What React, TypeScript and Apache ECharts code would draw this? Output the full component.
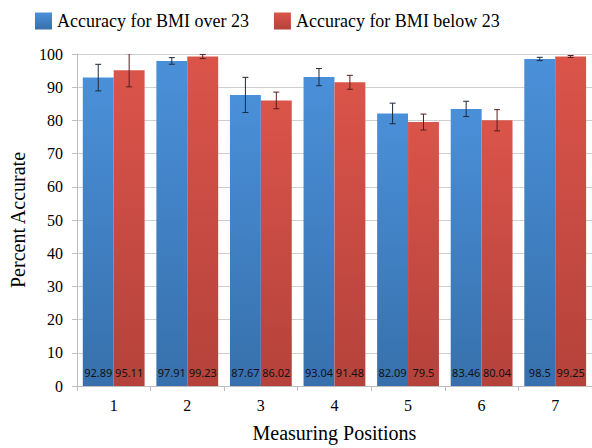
import React, { useEffect, useRef } from "react";
import * as echarts from "echarts";

const categories = ["1", "2", "3", "4", "5", "6", "7"];
const overValues = [92.89, 97.91, 87.67, 93.04, 82.09, 83.46, 98.5];
const belowValues = [95.11, 99.23, 86.02, 91.48, 79.5, 80.04, 99.25];
const overErrors = [4, 1, 5.3, 2.6, 3.1, 2.3, 0.5];
const belowErrors = [5, 0.6, 2.5, 2.1, 2.4, 3.2, 0.3];
const yTicks = [0, 10, 20, 30, 40, 50, 60, 70, 80, 90, 100];

const SERIF = "Liberation Serif";
const CAT_GAP = 0.16;

function grad(top: string, bottom: string) {
  return new echarts.graphic.LinearGradient(0, 0, 0, 1, [
    { offset: 0, color: top },
    { offset: 1, color: bottom },
  ]);
}

function errorSeries(values: number[], errors: number[], side: number, color: string) {
  return {
    type: "custom",
    clip: true,
    silent: true,
    z: 10,
    data: values.map((v, i) => [i, v, errors[i]]),
    encode: { x: 0, y: 1 },
    renderItem: (params: any, api: any) => {
      const idx = api.value(0);
      const v = api.value(1);
      const e = api.value(2);
      const catW = api.size([1, 0])[0];
      const barW = (catW * (1 - CAT_GAP)) / 2;
      const hi = api.coord([idx, v + e]);
      const lo = api.coord([idx, v - e]);
      const x = hi[0] + (side * barW) / 2;
      const cap = 3;
      const style = { stroke: color, lineWidth: 1 };
      return {
        type: "group",
        children: [
          { type: "line", shape: { x1: x, y1: hi[1], x2: x, y2: lo[1] }, style },
          { type: "line", shape: { x1: x - cap, y1: hi[1], x2: x + cap, y2: hi[1] }, style },
          { type: "line", shape: { x1: x - cap, y1: lo[1], x2: x + cap, y2: lo[1] }, style },
        ],
      };
    },
  };
}

const labelStyle = {
  show: true,
  position: "insideBottom",
  distance: 8,
  fontFamily: "Noto Sans",
  fontSize: 11,
  color: "#111",
};

export default function App() {
  const ref = useRef<HTMLDivElement>(null);
  useEffect(() => {
    if (!ref.current) return;
    document.body.style.margin = "0";
    const chart = echarts.init(ref.current, null, { renderer: "svg" });
    chart.setOption({
      animation: false,
      backgroundColor: "#fff",
      legend: {
        left: 30,
        top: 7,
        itemWidth: 17,
        itemHeight: 17,
        itemGap: 25,
        icon: "rect",
        data: ["Accuracy for BMI over 23", "Accuracy for BMI below 23"],
        textStyle: { fontFamily: SERIF, fontSize: 18, color: "#000" },
      },
      grid: { left: 67, top: 54, width: 527, bottom: 56 },
      xAxis: {
        type: "category",
        data: categories,
        name: "Measuring Positions",
        nameLocation: "middle",
        nameGap: 37,
        nameTextStyle: { fontFamily: SERIF, fontSize: 20, color: "#000" },
        axisLine: { lineStyle: { color: "#bdbdbd" } },
        axisTick: { show: true, interval: 0, length: 5, lineStyle: { color: "#bdbdbd" } },
        axisLabel: { fontFamily: SERIF, fontSize: 16, color: "#000", margin: 11 },
      },
      yAxis: {
        type: "value",
        min: 0,
        max: 100,
        interval: 10,
        name: "Percent Accurate",
        nameLocation: "middle",
        nameGap: 40,
        nameTextStyle: { fontFamily: SERIF, fontSize: 20, color: "#000" },
        axisLine: { show: true, lineStyle: { color: "#bdbdbd" } },
        axisTick: { show: true, length: 5, lineStyle: { color: "#bdbdbd" } },
        axisLabel: {
          fontFamily: SERIF,
          fontSize: 16,
          color: "#000",
          margin: 14,
          formatter: (v: number) => (yTicks.includes(v) ? String(v) : ""),
        },
        splitLine: { lineStyle: { color: "#cfcfcf" } },
      },
      series: [
        {
          name: "Accuracy for BMI over 23",
          type: "bar",
          data: overValues,
          barGap: "0%",
          barCategoryGap: "16%",
          itemStyle: { color: grad("#4a90d9", "#3770ac") },
          label: labelStyle,
        },
        {
          name: "Accuracy for BMI below 23",
          type: "bar",
          data: belowValues,
          barGap: "0%",
          barCategoryGap: "16%",
          itemStyle: { color: grad("#db544a", "#b4423b") },
          label: labelStyle,
        },
        errorSeries(overValues, overErrors, -1, "#1e2a3a"),
        errorSeries(belowValues, belowErrors, 1, "#5a1e1e"),
      ],
    });
    return () => chart.dispose();
  }, []);
  return <div ref={ref} style={{ width: 592, height: 448 }} />;
}
